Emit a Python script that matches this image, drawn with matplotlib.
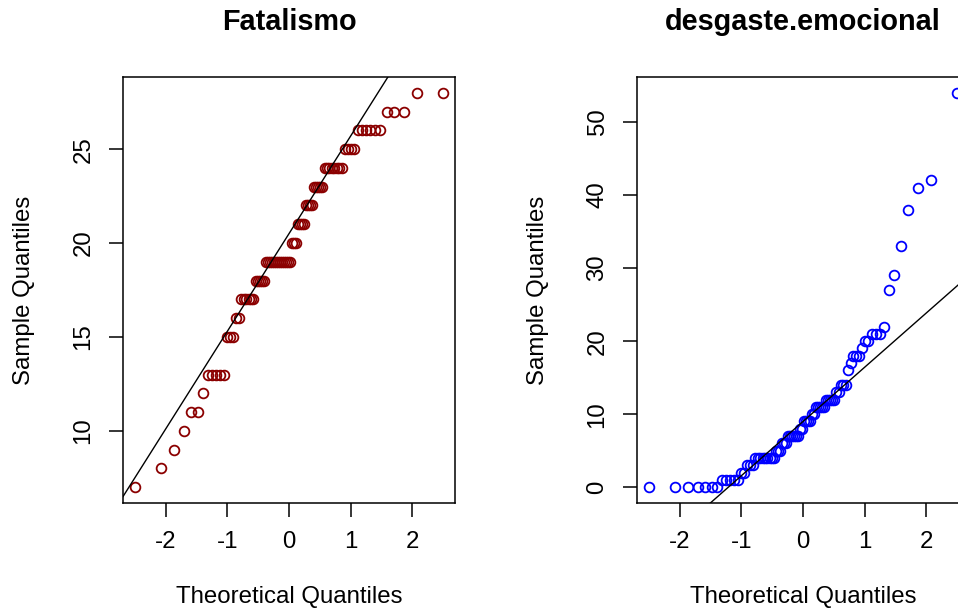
import matplotlib
matplotlib.use("Agg")
import matplotlib.pyplot as plt
import numpy as np
from statistics import NormalDist

plt.rcParams["font.family"] = ["Liberation Sans", "DejaVu Sans"]

# sorted sample values (n = 80 each)
fatalismo = [7, 8, 9, 10, 11, 11, 12,
             13, 13, 13, 13, 13,
             15, 15, 15,
             16, 16,
             17, 17, 17, 17, 17, 17,
             18, 18, 18, 18, 18,
             19, 19, 19, 19, 19, 19, 19, 19, 19, 19, 19, 19, 19,
             20, 20, 20,
             21, 21, 21, 21,
             22, 22, 22, 22,
             23, 23, 23, 23, 23,
             24, 24, 24, 24, 24, 24, 24, 24,
             25, 25, 25, 25,
             26, 26, 26, 26, 26, 26,
             27, 27, 27,
             28, 28]

desgaste = [0, 0, 0, 0, 0, 0, 0,
            1, 1, 1, 1, 1,
            2, 2,
            3, 3, 3,
            4, 4, 4, 4, 4, 4, 4, 4, 4,
            5, 5, 5,
            6, 6, 6,
            7, 7, 7, 7, 7, 7,
            8, 8,
            9, 9, 9, 9,
            10, 10,
            11, 11, 11, 11, 11,
            12, 12, 12, 12, 12,
            13, 13,
            14, 14, 14,
            16, 17,
            18, 18, 18,
            19,
            20, 20,
            21, 21, 21,
            22, 27, 29, 33, 38, 41, 42, 54]

titles = ["Fatalismo", "desgaste.emocional"]
colors = ["darkred", "blue"]
xticks = [-2, -1, 0, 1, 2]
yticks = [[10, 15, 20, 25], [0, 10, 20, 30, 40, 50]]

W, H = 958, 609
BASE = 17.3


def r_range(lo, hi):
    d = (hi - lo) * 0.04
    return lo - d, hi + d


def qq_panel(ax, values, color, yt):
    y = np.sort(np.array(values, dtype=float))
    n = len(y)
    nd = NormalDist()
    x = np.array([nd.inv_cdf((i - 0.5) / n) for i in range(1, n + 1)])

    ax.plot(x, y, "o", mfc="none", mec=color, ms=7.0, mew=1.3, clip_on=False)

    # qqline: through the first and third quartiles
    q1, q3 = np.percentile(y, [25, 75])
    z1, z3 = nd.inv_cdf(0.25), nd.inv_cdf(0.75)
    ax.axline((z1, q1), slope=(q3 - q1) / (z3 - z1), color="black", lw=1.0)

    ax.set_xlim(r_range(x.min(), x.max()))
    ax.set_ylim(r_range(y.min(), y.max()))

    ax.set_xticks(xticks, labels=[str(v) for v in xticks])
    ax.set_yticks(yt, labels=[str(v) for v in yt], rotation=90, va="center")
    ax.tick_params(direction="out", length=10, width=1.1, labelsize=BASE,
                   pad=10.5, colors="black")
    for s in ax.spines.values():
        s.set_linewidth(1.1)


fig = plt.figure(figsize=(W / 100, H / 100), dpi=100)

lefts = [123, 637]
for k in range(2):
    left = lefts[k]
    ax = fig.add_axes([left / W, (H - 503) / H, 332 / W, 426 / H])
    data = fatalismo if k == 0 else desgaste
    qq_panel(ax, data, colors[k], yticks[k])

    cx = (left + 166) / W
    fig.text(cx, 1 - 30 / H, titles[k], ha="center", va="baseline",
             fontsize=BASE * 1.2, fontweight="bold")
    fig.text(cx, 1 / H, "Theoretical Quantiles", ha="center", va="bottom",
             fontsize=BASE)
    fig.text((left - 93) / W, 1 - 290 / H, "Sample Quantiles", rotation=90,
             rotation_mode="anchor", ha="center", va="baseline", fontsize=BASE)

fig.savefig("out.png", dpi=100)
